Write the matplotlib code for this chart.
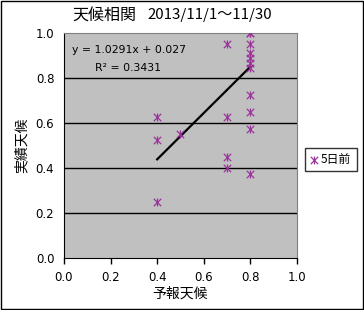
import matplotlib
matplotlib.use('Agg')
import matplotlib.pyplot as plt
from matplotlib.legend_handler import HandlerTuple
from matplotlib.patches import Rectangle

plt.rcParams['font.family'] = ['Noto Sans CJK JP', 'DejaVu Sans']

# forecast vs actual (5 days before)
forecast = [0.4, 0.4, 0.4, 0.5, 0.7, 0.7, 0.7, 0.7,
            0.8, 0.8, 0.8, 0.8, 0.8, 0.8, 0.8, 0.8, 0.8, 0.8, 0.8]
actual = [0.625, 0.525, 0.25, 0.55, 0.95, 0.625, 0.45, 0.40,
          1.0, 1.0, 0.95, 0.91, 0.89, 0.865, 0.845, 0.725, 0.65, 0.575, 0.375]

slope, intercept = 1.0291, 0.027
fit_x = [min(forecast), max(forecast)]
fit_y = [slope * v + intercept for v in fit_x]

purple = '#993399'

fig = plt.figure(figsize=(3.64, 3.10), dpi=100)
fig.patches.append(Rectangle((0.003, 0.003), 0.994, 0.994, transform=fig.transFigure,
                             fill=False, edgecolor='black', linewidth=1))
ax = fig.add_axes([0.1758, 0.1677, 0.640, 0.7258])
ax.set_facecolor('#c0c0c0')

for yv in [0.2, 0.4, 0.6, 0.8]:
    ax.axhline(yv, color='black', linewidth=1, zorder=1)

h1 = ax.scatter(forecast, actual, marker='x', s=28, color=purple, linewidths=0.9, zorder=3)
h2 = ax.scatter(forecast, actual, marker='|', s=28, color=purple, linewidths=0.9, zorder=3)
ax.plot(fit_x, fit_y, color='black', linewidth=1.6, zorder=2)

ax.text(0.034, 0.924, 'y = 1.0291x + 0.027', fontsize=7.8, va='center',
        family=['DejaVu Sans'])
ax.text(0.133, 0.844, 'R² = 0.3431', fontsize=7.8, va='center', family=['DejaVu Sans'])

ax.set_xlim(0, 1)
ax.set_ylim(0, 1)
ax.set_xticks([0, 0.2, 0.4, 0.6, 0.8, 1.0])
ax.set_yticks([0, 0.2, 0.4, 0.6, 0.8, 1.0])
ax.set_xticklabels(['0.0', '0.2', '0.4', '0.6', '0.8', '1.0'], family=['DejaVu Sans'])
ax.set_yticklabels(['0.0', '0.2', '0.4', '0.6', '0.8', '1.0'], family=['DejaVu Sans'])
ax.tick_params(axis='x', direction='out', length=4, width=1, labelsize=8.5, pad=5)
ax.tick_params(axis='y', length=0, labelsize=8.5, pad=7)

for side in ['top', 'right']:
    ax.spines[side].set_color('#808080')
for side in ['left', 'bottom']:
    ax.spines[side].set_color('black')

ax.set_xlabel('予報天候', fontsize=10, labelpad=2)
ax.set_ylabel('実績天候', fontsize=10, labelpad=5)

fig.text(0.20, 0.952, '天候相関', fontsize=11.5, va='center')
fig.text(0.405, 0.952, '2013/11/1～11/30', fontsize=10.8, va='center')

leg = fig.legend([(h1, h2)], ['5日前'], handler_map={tuple: HandlerTuple(ndivide=1, pad=0)},
                 loc='center', bbox_to_anchor=(0.909, 0.486), fontsize=8.5,
                 frameon=True, fancybox=False, edgecolor='black', handlelength=0.6,
                 handletextpad=0.3, borderpad=0.45, borderaxespad=0, markerscale=1)
leg.get_frame().set_linewidth(1)

plt.savefig('out.png', dpi=100)
